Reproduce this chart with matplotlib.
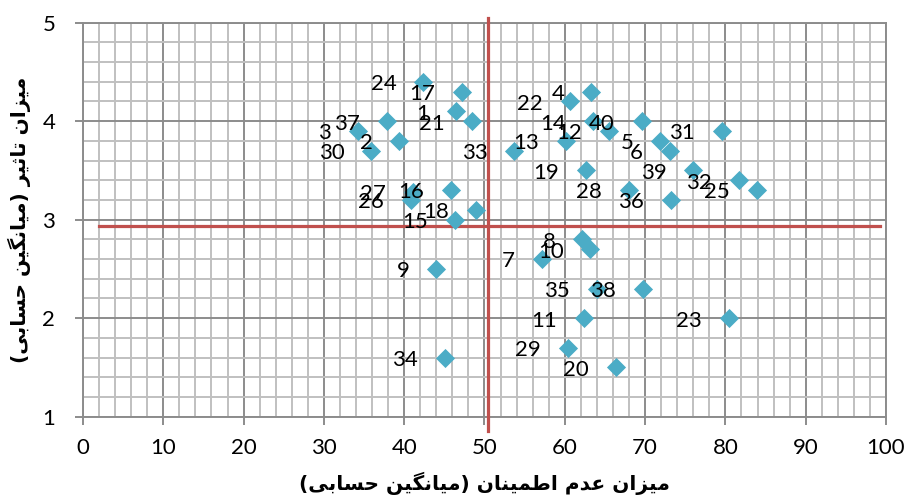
import numpy as np
from matplotlib import pyplot as plt
from matplotlib.ticker import MultipleLocator

# شماره ریسک ها و مختصات (عدم اطمینان ، تاثیر)
labels = [1, 2, 3, 4, 5, 6, 7, 8, 9, 10,
          11, 12, 13, 14, 15, 16, 17, 18, 19, 20,
          21, 22, 23, 24, 25, 26, 27, 28, 29, 30,
          31, 32, 33, 34, 35, 36, 37, 38, 39, 40]
x_vals = [46.4, 39.4, 34.2, 63.3, 71.9, 73.1, 57.1, 62.2, 44.0, 63.2,
          62.4, 65.5, 60.1, 63.5, 46.3, 45.8, 47.2, 49.0, 62.6, 66.4,
          48.4, 60.6, 80.4, 42.4, 83.9, 40.8, 41.1, 68.0, 60.4, 35.9,
          79.6, 81.7, 53.7, 45.1, 64.0, 73.2, 37.8, 69.7, 76.0, 69.6]
y_vals = [4.1, 3.8, 3.9, 4.3, 3.8, 3.7, 2.6, 2.8, 2.5, 2.7,
          2.0, 3.9, 3.8, 4.0, 3.0, 3.3, 4.3, 3.1, 3.5, 1.5,
          4.0, 4.2, 2.0, 4.4, 3.3, 3.2, 3.28, 3.3, 1.7, 3.7,
          3.9, 3.4, 3.7, 1.6, 2.3, 3.2, 4.0, 2.3, 3.5, 4.0]

# خطوط میانگین
x_mean = 50.4
y_mean = 2.94

xlabel_fa = 'میزان عدم اطمینان (میانگین حسابی)'
ylabel_fa = 'میزان تاثیر (میانگین حسابی)'

## شکل دهی حروف فارسی (matplotlib خودش انجام نمی دهد)
FORMS = {
    'ا': ('\uFE8D', '\uFE8E', None, None),
    'ب': ('\uFE8F', '\uFE90', '\uFE91', '\uFE92'),
    'ت': ('\uFE95', '\uFE96', '\uFE97', '\uFE98'),
    'ث': ('\uFE99', '\uFE9A', '\uFE9B', '\uFE9C'),
    'ح': ('\uFEA1', '\uFEA2', '\uFEA3', '\uFEA4'),
    'د': ('\uFEA9', '\uFEAA', None, None),
    'ر': ('\uFEAD', '\uFEAE', None, None),
    'ز': ('\uFEAF', '\uFEB0', None, None),
    'س': ('\uFEB1', '\uFEB2', '\uFEB3', '\uFEB4'),
    'ط': ('\uFEC1', '\uFEC2', '\uFEC3', '\uFEC4'),
    'ع': ('\uFEC9', '\uFECA', '\uFECB', '\uFECC'),
    'م': ('\uFEE1', '\uFEE2', '\uFEE3', '\uFEE4'),
    'ن': ('\uFEE5', '\uFEE6', '\uFEE7', '\uFEE8'),
    'ی': ('\uFBFC', '\uFBFD', '\uFBFE', '\uFBFF'),
    'گ': ('\uFB92', '\uFB93', '\uFB94', '\uFB95'),
}

def farsi(s):
    out = []
    for i, ch in enumerate(s):
        if ch not in FORMS:
            out.append(ch)
            continue
        prev = s[i-1] if i > 0 else ''
        nxt = s[i+1] if i < len(s)-1 else ''
        jp = prev in FORMS and FORMS[prev][2] is not None
        jn = nxt in FORMS and FORMS[ch][2] is not None
        f = FORMS[ch]
        if jp and jn:
            out.append(f[3])
        elif jp:
            out.append(f[1])
        elif jn:
            out.append(f[2])
        else:
            out.append(f[0])
    vis = ''.join(out)[::-1]
    return vis.translate(str.maketrans('()', ')('))

plt.rcParams['font.family'] = ['Lato', 'DejaVu Sans']

fig = plt.figure(figsize=(9.08, 5.04), dpi=100)
ax = fig.add_axes([83/908, 1-416.7/504, (886-83)/908, (416.7-22.7)/504])

ax.scatter(x_vals, y_vals, marker='D', s=95, color='#4BACC6', zorder=4, linewidths=0)
for l, x, y in zip(labels, x_vals, y_vals):
    ax.annotate(str(l), (x, y), xytext=(-19.4, -6), textcoords='offset points',
                ha='right', va='baseline', fontsize=16, color='black', zorder=5)

# خطوط قرمز
ax.plot([x_mean, x_mean], [0.85, 5.045], color='#C0504D', lw=2.3, zorder=3, clip_on=False)
ax.plot([2.0, 99.2], [y_mean, y_mean], color='#C0504D', lw=2.3, zorder=3, clip_on=False)

ax.set_xlim(0, 100)
ax.set_ylim(1, 5)
ax.xaxis.set_major_locator(MultipleLocator(10))
ax.xaxis.set_minor_locator(MultipleLocator(2))
ax.yaxis.set_major_locator(MultipleLocator(1))
ax.yaxis.set_minor_locator(MultipleLocator(0.2))
ax.grid(which='minor', color='#C0C0C0', lw=1.4, zorder=0)
ax.grid(which='major', color='#8C8C8C', lw=1.4, zorder=1)
ax.set_axisbelow(True)
for s in ax.spines.values():
    s.set_color('#8C8C8C')
    s.set_linewidth(1.4)
ax.tick_params(which='major', length=6, width=1.4, color='#8C8C8C', labelsize=16)
ax.tick_params(axis='x', pad=9)
ax.tick_params(axis='y', pad=14)
ax.tick_params(which='minor', length=0)

ax.set_xlabel(farsi(xlabel_fa), fontsize=14.5, fontweight='bold', family=['DejaVu Sans'], labelpad=10)
ax.set_ylabel(farsi(ylabel_fa), fontsize=14.5, fontweight='bold', family=['DejaVu Sans'], labelpad=8)

plt.savefig('out.png', dpi=100)
